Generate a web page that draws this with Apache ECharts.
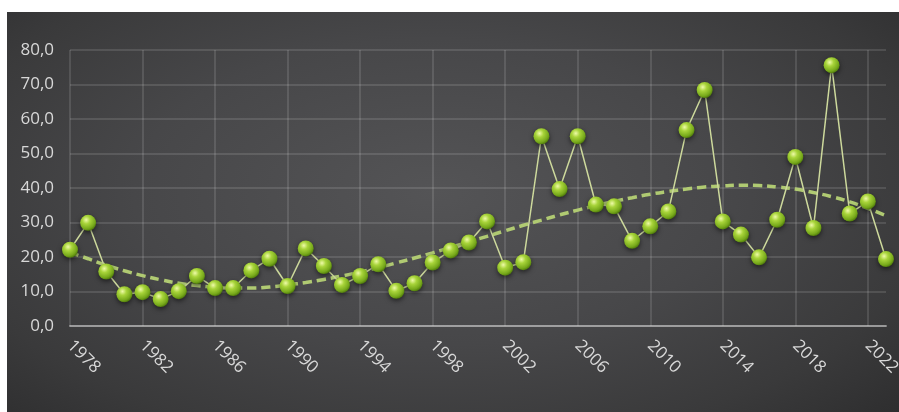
<!DOCTYPE html>
<html>
<head>
<meta charset="utf-8">
<script src="https://cdn.jsdelivr.net/npm/echarts@6/dist/echarts.min.js"></script>
<style>
html,body{margin:0;padding:0;background:#fff;width:899px;height:412px;overflow:hidden;}
#bg{position:absolute;left:7px;top:12px;width:892px;height:400px;
background:radial-gradient(ellipse 75% 85% at 48% 45%, #545456 0%, #474749 45%, #3a3a3b 75%, #2b2b2c 100%);}
#chart{position:absolute;left:0;top:0;width:892px;height:400px;}
</style>
</head>
<body>
<div id="bg"><div id="chart"></div></div>
<script>
const years = ["1978","1979","1980","1981","1982","1983","1984","1985","1986","1987","1988","1989","1990","1991","1992","1993","1994","1995","1996","1997","1998","1999","2000","2001","2002","2003","2004","2005","2006","2007","2008","2009","2010","2011","2012","2013","2014","2015","2016","2017","2018","2019","2020","2021","2022","2023"];
const values = [22.1,29.9,15.8,9.2,9.8,7.8,10.1,14.5,11.0,11.0,16.1,19.5,11.6,22.5,17.4,11.9,14.5,17.9,10.2,12.4,18.4,21.9,24.2,30.3,16.9,18.5,55.0,39.7,55.0,35.2,34.7,24.7,28.9,33.2,56.8,68.4,30.3,26.5,19.9,30.8,49.0,28.4,75.6,32.6,36.1,19.4];
const trend = [21.3,19.5,17.6,16.0,14.6,13.4,12.4,11.7,11.2,11.0,11.0,11.3,11.9,12.6,13.5,14.5,15.7,16.9,18.3,19.7,21.2,22.8,24.4,26.0,27.6,29.2,30.7,32.2,33.6,34.9,36.1,37.2,38.2,39.0,39.7,40.3,40.6,40.8,40.7,40.3,39.7,38.7,37.5,36.0,34.1,32.0];

const chart = echarts.init(document.getElementById('chart'), null, {renderer:'canvas'});
const gridColor = 'rgba(255,255,255,0.16)';
chart.setOption({
  animation:false,
  backgroundColor:'transparent',
  grid:{left:63, top:38, width:816, height:276, containLabel:false, outerBoundsMode:'none'},
  xAxis:{
    type:'category', data:years, boundaryGap:false,
    axisLine:{show:true, lineStyle:{color:'rgba(215,215,215,0.55)', width:2}},
    axisTick:{show:false},
    axisLabel:{interval:3, rotate:-45, color:'#d8d8d8', fontSize:17, fontFamily:'Open Sans', margin:17},
    splitLine:{show:true, interval:3, lineStyle:{color:gridColor, width:1.5}}
  },
  yAxis:{
    type:'value', min:0, max:80, interval:10,
    axisLine:{show:false}, axisTick:{show:false},
    axisLabel:{color:'#d8d8d8', fontSize:17, fontFamily:'Open Sans', margin:16,
      formatter:v=>v.toFixed(1).replace('.',',')},
    splitLine:{show:true, lineStyle:{color:gridColor, width:1.5}}
  },
  series:[
    {
      type:'line', data:trend, smooth:true, symbol:'none', z:2,
      lineStyle:{color:'#b0ca72', width:3.5, type:[9,5]}
    },
    {
      type:'line', data:values, smooth:false, z:3,
      symbol:'circle', symbolSize:16, showAllSymbol:true,
      lineStyle:{color:'#cdd99c', width:1.5},
      itemStyle:{
        color:{type:'radial', x:0.38, y:0.32, r:0.7, colorStops:[
          {offset:0, color:'#eefaa8'},
          {offset:0.35, color:'#a8d43a'},
          {offset:0.8, color:'#76a81a'},
          {offset:1, color:'#4f7a0c'}
        ]},
        shadowBlur:5, shadowColor:'rgba(0,0,0,0.55)', shadowOffsetY:2
      }
    }
  ]
});
</script>
</body>
</html>
